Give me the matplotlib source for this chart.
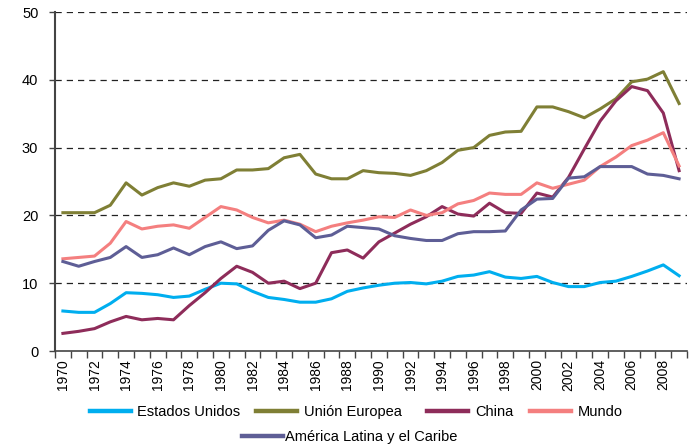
import matplotlib.pyplot as plt
import numpy as np

plt.rcParams['font.family'] = ['Liberation Sans', 'DejaVu Sans']

years = list(range(1970, 2010))

estados_unidos = [5.9, 5.7, 5.7, 7.0, 8.6, 8.5, 8.3, 7.9, 8.1, 9.1,
                  10.0, 9.9, 8.8, 7.9, 7.6, 7.2, 7.2, 7.7, 8.8, 9.3,
                  9.7, 10.0, 10.1, 9.9, 10.3, 11.0, 11.2, 11.7, 10.9, 10.7,
                  11.0, 10.1, 9.5, 9.5, 10.1, 10.3, 11.0, 11.8, 12.7, 11.1]

union_europea = [20.4, 20.4, 20.4, 21.5, 24.8, 23.0, 24.1, 24.8, 24.3, 25.2,
                 25.4, 26.7, 26.7, 26.9, 28.5, 29.0, 26.1, 25.4, 25.4, 26.6,
                 26.3, 26.2, 25.9, 26.6, 27.8, 29.6, 30.0, 31.8, 32.3, 32.4,
                 36.0, 36.0, 35.3, 34.4, 35.7, 37.2, 39.7, 40.1, 41.2, 36.5]

china = [2.6, 2.9, 3.3, 4.3, 5.1, 4.6, 4.8, 4.6, 6.7, 8.6,
         10.7, 12.5, 11.6, 10.0, 10.3, 9.2, 10.0, 14.5, 14.9, 13.7,
         16.1, 17.4, 18.7, 19.8, 21.3, 20.2, 19.9, 21.8, 20.4, 20.3,
         23.3, 22.7, 25.6, 29.8, 33.9, 36.9, 39.0, 38.4, 35.1, 26.6]

mundo = [13.6, 13.8, 14.0, 15.9, 19.1, 18.0, 18.4, 18.6, 18.1, 19.7,
         21.3, 20.8, 19.7, 18.9, 19.3, 18.7, 17.6, 18.4, 18.9, 19.3,
         19.8, 19.7, 20.8, 20.0, 20.4, 21.7, 22.2, 23.3, 23.1, 23.1,
         24.8, 24.0, 24.6, 25.2, 27.2, 28.6, 30.3, 31.1, 32.2, 27.3]

america_latina = [13.2, 12.5, 13.2, 13.8, 15.4, 13.8, 14.2, 15.2, 14.2, 15.4,
                  16.1, 15.1, 15.5, 17.8, 19.2, 18.6, 16.7, 17.1, 18.4, 18.2,
                  18.0, 17.0, 16.6, 16.3, 16.3, 17.3, 17.6, 17.6, 17.7, 20.8,
                  22.4, 22.5, 25.5, 25.7, 27.2, 27.2, 27.2, 26.1, 25.9, 25.4]

W, H = 689, 444
fig = plt.figure(figsize=(W / 100, H / 100), dpi=100)
ax = fig.add_axes([55 / W, 1 - 351 / H, 632 / W, 339 / H])

x = np.arange(len(years))
lw = 2.2
l1, = ax.plot(x, estados_unidos, color='#00AEEF', lw=lw, label='Estados Unidos')
l2, = ax.plot(x, union_europea, color='#7F7F35', lw=lw, label='Unión Europea')
l3, = ax.plot(x, china, color='#8E2C5A', lw=lw, label='China')
l4, = ax.plot(x, mundo, color='#F47F7F', lw=lw, label='Mundo')
l5, = ax.plot(x, america_latina, color='#5E5E96', lw=lw, label='América Latina y el Caribe')

for v in [10, 20, 30, 40, 50]:
    ax.axhline(v, color='#222222', lw=0.9, dashes=(5, 4), zorder=0)

ax.set_ylim(0, 50)
ax.set_xlim(-0.5, len(years) - 0.5)
ax.set_yticks([0, 10, 20, 30, 40, 50])
ax.tick_params(axis='y', labelsize=10.5, length=4, width=1, color='#444444', pad=8)

ax.set_xticks(x[::2])
ax.set_xticklabels([str(y) for y in years[::2]], rotation=90, fontsize=10)
ax.set_xticks(np.arange(-0.5, len(years), 1), minor=True)
ax.tick_params(axis='x', which='major', length=0, pad=6)
ax.tick_params(axis='x', which='minor', length=5, width=1, color='#444444')

for s in ['top', 'right']:
    ax.spines[s].set_visible(False)
ax.spines['left'].set_color('#444444')
ax.spines['bottom'].set_color('#444444')
ax.spines['left'].set_linewidth(1.5)
ax.spines['bottom'].set_linewidth(1.2)

# legend entries placed one by one (handle start x, row y, text gap)
entries = [(l1, 90, 412, 0.4), (l2, 256, 412, 0.5), (l3, 427, 412, 0.5),
           (l4, 530, 412, 0.45), (l5, 242, 437, 0.15)]
for handle, px, py, pad in entries:
    leg = fig.legend(handles=[handle], loc='center left', bbox_to_anchor=(px / W, 1 - py / H),
                     frameon=False, fontsize=10.5, handlelength=2.8, handletextpad=pad,
                     borderpad=0, borderaxespad=0)
    for line in leg.get_lines():
        line.set_linewidth(3.2)

fig.savefig('out.png', dpi=100)
